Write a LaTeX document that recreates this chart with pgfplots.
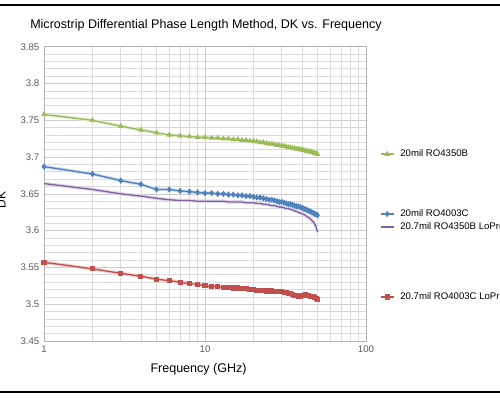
\documentclass[border=0pt]{standalone}
\usepackage{pgfplots}
\usepackage{pgfplotstable}
\pgfplotsset{compat=1.18}
\usepackage{fontspec}
\setmainfont{Liberation Sans}
\definecolor{cgreen}{HTML}{9BBB59}
\definecolor{cblue}{HTML}{4F81BD}
\definecolor{cpurple}{HTML}{8064A2}
\definecolor{cred}{HTML}{C0504D}
\definecolor{tickgray}{HTML}{595959}
\pgfplotstableread{
f g b p r
1 3.758 3.687 3.664 3.557
2 3.750 3.677 3.656 3.548
3 3.742 3.668 3.650 3.542
4 3.737 3.663 3.647 3.538
5 3.733 3.656 3.644 3.534
6 3.730 3.656 3.642 3.532
7 3.729 3.654 3.641 3.530
8 3.728 3.653 3.641 3.528
9 3.727 3.652 3.640 3.527
10 3.727 3.651 3.640 3.525
11 3.726 3.651 3.640 3.524
12 3.726 3.650 3.640 3.524
13 3.725 3.650 3.640 3.523
14 3.725 3.649 3.639 3.523
15 3.724 3.649 3.639 3.522
16 3.724 3.648 3.639 3.522
17 3.723 3.648 3.639 3.521
18 3.723 3.647 3.638 3.521
19 3.722 3.647 3.638 3.520
20 3.722 3.646 3.638 3.520
21 3.721 3.645 3.637 3.519
22 3.720 3.645 3.637 3.519
23 3.720 3.644 3.636 3.519
24 3.719 3.643 3.636 3.518
25 3.718 3.642 3.635 3.518
26 3.718 3.642 3.634 3.518
27 3.717 3.641 3.634 3.517
28 3.716 3.640 3.633 3.517
29 3.716 3.639 3.632 3.517
30 3.715 3.639 3.632 3.517
31 3.715 3.638 3.631 3.516
32 3.714 3.637 3.630 3.516
33 3.713 3.636 3.630 3.515
34 3.713 3.636 3.629 3.514
35 3.712 3.635 3.628 3.513
36 3.712 3.634 3.627 3.512
37 3.711 3.633 3.626 3.512
38 3.711 3.633 3.625 3.511
39 3.710 3.632 3.624 3.511
40 3.710 3.631 3.623 3.512
41 3.709 3.630 3.622 3.512
42 3.709 3.629 3.621 3.513
43 3.708 3.628 3.619 3.512
44 3.708 3.627 3.618 3.512
45 3.707 3.626 3.616 3.511
46 3.707 3.625 3.614 3.510
47 3.706 3.624 3.612 3.510
48 3.705 3.623 3.609 3.509
49 3.705 3.622 3.605 3.508
50 3.704 3.621 3.598 3.507
}\datatable
\pgfplotsset{
  legbox/.style={at={(33pt,42pt)}, anchor=south west,
    scale only axis, width=241.5pt, height=220.7pt,
    hide axis, xmin=0, xmax=1, ymin=0, ymax=1,
    legend style={at={(1.043,#1)}, anchor=west, draw=none, fill=none,
      inner sep=0pt, font=\fontsize{7.2}{8}\selectfont, nodes={inner sep=0pt}},
    legend image code/.code={\draw[mark repeat=2,mark phase=2,##1] plot coordinates {(0cm,0cm) (0.17cm,0cm) (0.34cm,0cm)};},
  },
}
\begin{document}
\begin{tikzpicture}
\path[use as bounding box] (0,0) rectangle (375pt,297.75pt);
\draw[line width=1.5pt, black] (0,294pt) -- (375pt,294pt);
\draw[line width=1.5pt, black] (0,3.4pt) -- (375pt,3.4pt);
\node[anchor=west, font=\fontsize{9.4}{10}\selectfont, inner sep=0pt] at (22.5pt,279pt) {Microstrip Differential Phase Length Method, DK vs. Frequency};
\begin{axis}[
  at={(33pt,42pt)}, anchor=south west,
  scale only axis, width=241.5pt, height=220.7pt,
  xmode=log, xmin=1, xmax=100,
  ymin=3.45, ymax=3.85,
  xtick={1,10,100}, xticklabels={1,10,100},
  ytick={3.45,3.5,3.55,3.6,3.65,3.7,3.75,3.8,3.85},
  yticklabels={3.45,3.5,3.55,3.6,3.65,3.7,3.75,3.8,3.85},
  minor y tick num=4,
  grid=both,
  major grid style={draw=black!20, line width=0.5pt},
  minor grid style={draw=black!14, line width=0.5pt},
  axis line style={draw=black!30},
  major tick length=0pt, minor tick length=0pt,
  tick label style={font=\fontsize{7.2}{8}\selectfont, text=tickgray},
  /pgf/number format/assume math mode=true,
  xlabel={Frequency (GHz)},
  xlabel style={font=\fontsize{9.4}{10}\selectfont, at={(axis description cs:0.48,-0.096)}, anchor=center},
  ylabel={DK},
  ylabel style={font=\fontsize{9}{10}\selectfont, at={(axis description cs:-0.132,0.48)}, anchor=center, rotate=0},
]
\addplot[cgreen!25, line width=2.6pt] table[x=f,y=g]{\datatable};
\addplot[cblue!25, line width=2.6pt] table[x=f,y=b]{\datatable};
\addplot[cpurple!25, line width=2.6pt] table[x=f,y=p]{\datatable};
\addplot[cred!25, line width=2.6pt] table[x=f,y=r]{\datatable};
\addplot[cgreen, line width=1pt, mark=triangle*, mark size=1.5pt] table[x=f,y=g]{\datatable};
\addplot[cblue, line width=1pt, mark=diamond*, mark size=1.6pt] table[x=f,y=b]{\datatable};
\addplot[cpurple, line width=1pt] table[x=f,y=p]{\datatable};
\addplot[cred, line width=1pt, mark=square*, mark size=1.4pt] table[x=f,y=r]{\datatable};
\end{axis}
\begin{axis}[legbox=0.635]
\addlegendimage{cgreen, line width=1pt, mark=triangle*, mark size=1.5pt}
\addlegendentry{\hspace*{4.5pt}20mil RO4350B}
\end{axis}
\begin{axis}[legbox=0.4315]
\addlegendimage{cblue, line width=1pt, mark=diamond*, mark size=1.6pt}
\addlegendentry{\hspace*{4.5pt}20mil RO4003C}
\end{axis}
\begin{axis}[legbox=0.387]
\addlegendimage{cpurple, line width=1pt}
\addlegendentry{\hspace*{4.5pt}20.7mil RO4350B LoPro}
\end{axis}
\begin{axis}[legbox=0.1495]
\addlegendimage{cred, line width=1pt, mark=square*, mark size=1.4pt}
\addlegendentry{\hspace*{4.5pt}20.7mil RO4003C LoPro}
\end{axis}
\end{tikzpicture}
\end{document}
